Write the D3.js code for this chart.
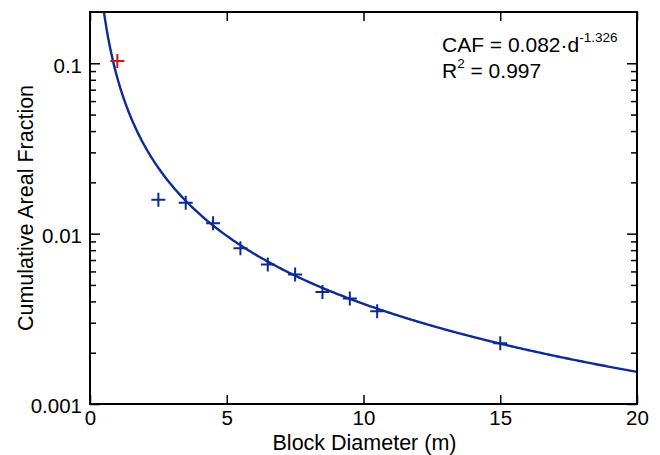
<!DOCTYPE html>
<html>
<head>
<meta charset="utf-8">
<script src="https://cdn.jsdelivr.net/npm/d3@7"></script>
<style>
  html, body { margin: 0; padding: 0; background: #fff; }
  svg { display: block; font-family: "Liberation Sans", Arial, Helvetica, sans-serif; }
</style>
</head>
<body>
<svg id="chart" width="660" height="455"></svg>
<script>
// ---- data ----
const diameters = [2.5, 3.5, 4.5, 5.5, 6.5, 7.5, 8.5, 9.5, 10.5, 15];
const cafValues = [0.0158, 0.0152, 0.0115, 0.0082, 0.0066, 0.00575, 0.00455, 0.00416, 0.0035, 0.00227];
const outlierDiameters = [1];
const outlierValues = [0.103];
const fitCoef = 0.082;
const fitExponent = -1.326;
const fitR2 = 0.997;
const xTicks = [0, 5, 10, 15, 20];
const yMajorTicks = [0.001, 0.01, 0.1];
const yTickLabels = ["0.001", "0.01", "0.1"];
const xDomain = [0, 20];
const yDomain = [0.001, 0.2];

// ---- layout ----
const svg = d3.select("#chart");
const L = 90, R = 637, T = 12, B = 404;
const blue = "#0c2a98", red = "#cc1a1a";

const x = d3.scaleLinear().domain(xDomain).range([L, R]);
const y = d3.scaleLog().domain(yDomain).range([B, T]);

const yMinorTicks = [];
[0.001, 0.01, 0.1].forEach(dec => {
  for (let k = 2; k <= 9; k++) {
    const v = dec * k;
    if (v < yDomain[1] * 0.999) yMinorTicks.push(v);
  }
});

const fontSize = 20.5;

// clip
svg.append("defs").append("clipPath").attr("id", "plotclip")
  .append("rect").attr("x", L).attr("y", T).attr("width", R - L).attr("height", B - T);

// ---- fit curve ----
const curveD = d3.range(0.4, 20.0001, 0.05);
const line = d3.line().x(d => x(d)).y(d => y(fitCoef * Math.pow(d, fitExponent)));
svg.append("path")
  .datum(curveD)
  .attr("clip-path", "url(#plotclip)")
  .attr("fill", "none")
  .attr("stroke", blue)
  .attr("stroke-width", 2.4)
  .attr("d", line);

// ---- markers ----
function plus(g, xs, ys, color) {
  const pts = xs.map((d, i) => [d, ys[i]]);
  const s = 7;
  const grp = g.append("g").attr("stroke", color).attr("stroke-width", 2);
  grp.selectAll("path").data(pts).enter().append("path")
    .attr("d", d => {
      const px = x(d[0]), py = y(d[1]);
      return `M${px - s},${py}H${px + s}M${px},${py - s}V${py + s}`;
    });
}
plus(svg, diameters, cafValues, blue);
plus(svg, outlierDiameters, outlierValues, red);

// ---- axes ----
const axisStyle = g => {
  g.selectAll(".domain").remove();
  g.selectAll(".tick line").attr("stroke", "#000").attr("stroke-width", 1.5);
  g.selectAll(".tick text").attr("fill", "#000").attr("font-size", fontSize)
    .attr("font-family", '"Liberation Sans", Arial, Helvetica, sans-serif');
};

// bottom
svg.append("g").attr("transform", `translate(0,${B})`)
  .call(d3.axisBottom(x).tickValues(xTicks).tickFormat(d3.format("d")).tickSizeInner(-9).tickPadding(6))
  .call(axisStyle);
// top
svg.append("g").attr("transform", `translate(0,${T})`)
  .call(d3.axisTop(x).tickValues(xTicks).tickFormat("").tickSizeInner(-9))
  .call(axisStyle);
// left major
svg.append("g").attr("transform", `translate(${L},0)`)
  .call(d3.axisLeft(y).tickValues(yMajorTicks).tickFormat((d, i) => yTickLabels[i]).tickSizeInner(-10).tickPadding(8))
  .call(axisStyle)
  .call(g => g.selectAll(".tick text").attr("dy", "0.43em"));
// left minor
svg.append("g").attr("transform", `translate(${L},0)`)
  .call(d3.axisLeft(y).tickValues(yMinorTicks).tickFormat("").tickSizeInner(-6))
  .call(axisStyle);
// right major
svg.append("g").attr("transform", `translate(${R},0)`)
  .call(d3.axisRight(y).tickValues(yMajorTicks).tickFormat("").tickSizeInner(-10))
  .call(axisStyle);
// right minor
svg.append("g").attr("transform", `translate(${R},0)`)
  .call(d3.axisRight(y).tickValues(yMinorTicks).tickFormat("").tickSizeInner(-6))
  .call(axisStyle);

// frame
svg.append("rect").attr("x", L).attr("y", T).attr("width", R - L).attr("height", B - T)
  .attr("fill", "none").attr("stroke", "#000").attr("stroke-width", 2);

// ---- titles ----
svg.append("text").attr("x", (L + R) / 2 + 1).attr("y", 450)
  .attr("text-anchor", "middle").attr("font-size", 21.5).text("Block Diameter (m)");
svg.append("text").attr("transform", `translate(33,${(T + B) / 2}) rotate(-90)`)
  .attr("text-anchor", "middle").attr("font-size", 21.5).text("Cumulative Areal Fraction");

// ---- annotation ----
const annSize = 21;
const ann = svg.append("text").attr("x", 442).attr("y", 52).attr("font-size", annSize);
ann.append("tspan").text(`CAF = ${fitCoef}·d`);
ann.append("tspan").attr("font-size", 13.5).attr("dy", -10).text(`${fitExponent}`);
const ann2 = svg.append("text").attr("x", 442).attr("y", 78).attr("font-size", annSize);
ann2.append("tspan").text("R");
ann2.append("tspan").attr("font-size", 13.5).attr("dy", -10).text("2");
ann2.append("tspan").attr("dy", 10).text(` = ${fitR2}`);
</script>
</body>
</html>
